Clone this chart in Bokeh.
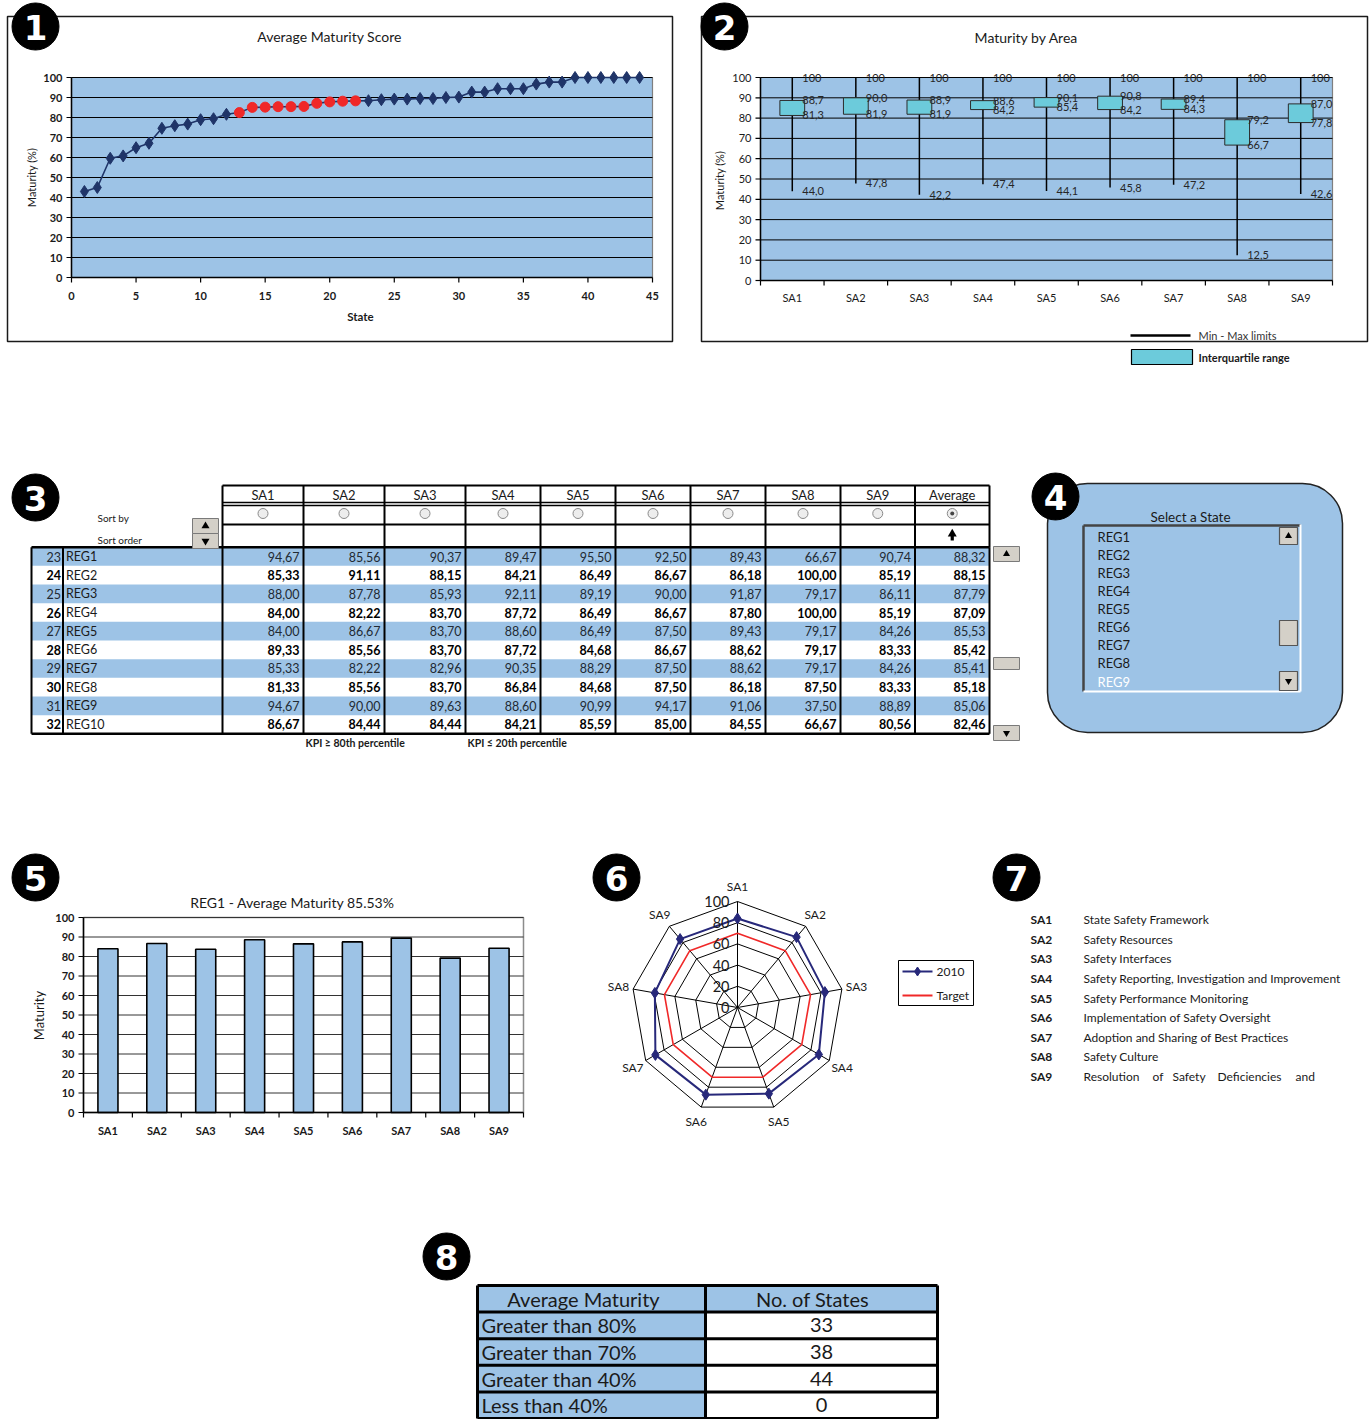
import math
from bokeh.plotting import figure
from bokeh.models import Range1d
from bokeh.embed import file_html
from bokeh.resources import INLINE
from bokeh.core.properties import value

# ===================== DATA =====================
# Panel 1 - average maturity score per State (sorted ascending)
state_ids = list(range(1, 45))
state_avg = [43.0, 45.0, 59.6, 60.8, 64.9, 67.1, 74.6, 75.9, 76.7, 78.9, 79.4, 81.6,
             82.46, 85.06, 85.18, 85.41, 85.42, 85.53, 87.09, 87.79, 88.15, 88.32,
             88.4, 88.9, 89.2, 89.2, 89.5, 89.5, 90.0, 90.2, 92.7, 92.7, 94.4, 94.4,
             94.4, 96.7, 97.7, 97.7, 100.0, 100.0, 100.0, 100.0, 100.0, 100.0]
red_state_ids = [13, 14, 15, 16, 17, 18, 19, 20, 21, 22]
p1_x_ticks = [0, 5, 10, 15, 20, 25, 30, 35, 40, 45]
p1_y_ticks = [0, 10, 20, 30, 40, 50, 60, 70, 80, 90, 100]

# Panel 2 - maturity by area (min / quartiles / max)
areas = ["SA1", "SA2", "SA3", "SA4", "SA5", "SA6", "SA7", "SA8", "SA9"]
area_max = [100, 100, 100, 100, 100, 100, 100, 100, 100]
area_q3 = [88.7, 90.0, 88.9, 88.6, 90.1, 90.8, 89.4, 79.2, 87.0]
area_q1 = [81.3, 81.9, 81.9, 84.2, 85.4, 84.2, 84.3, 66.7, 77.8]
area_min = [44.0, 47.8, 42.2, 47.4, 44.1, 45.8, 47.2, 12.5, 42.6]
p2_y_ticks = [0, 10, 20, 30, 40, 50, 60, 70, 80, 90, 100]

# Panel 3 - table
reg_ranks = [23, 24, 25, 26, 27, 28, 29, 30, 31, 32]
reg_names = ["REG1", "REG2", "REG3", "REG4", "REG5", "REG6", "REG7", "REG8", "REG9", "REG10"]
reg_sa1 = [94.67, 85.33, 88.00, 84.00, 84.00, 89.33, 85.33, 81.33, 94.67, 86.67]
reg_sa2 = [85.56, 91.11, 87.78, 82.22, 86.67, 85.56, 82.22, 85.56, 90.00, 84.44]
reg_sa3 = [90.37, 88.15, 85.93, 83.70, 83.70, 83.70, 82.96, 83.70, 89.63, 84.44]
reg_sa4 = [89.47, 84.21, 92.11, 87.72, 88.60, 87.72, 90.35, 86.84, 88.60, 84.21]
reg_sa5 = [95.50, 86.49, 89.19, 86.49, 86.49, 84.68, 88.29, 84.68, 90.99, 85.59]
reg_sa6 = [92.50, 86.67, 90.00, 86.67, 87.50, 86.67, 87.50, 87.50, 94.17, 85.00]
reg_sa7 = [89.43, 86.18, 91.87, 87.80, 89.43, 88.62, 88.62, 86.18, 91.06, 84.55]
reg_sa8 = [66.67, 100.00, 79.17, 100.00, 79.17, 79.17, 79.17, 87.50, 37.50, 66.67]
reg_sa9 = [90.74, 85.19, 86.11, 85.19, 84.26, 83.33, 84.26, 83.33, 88.89, 80.56]
reg_avg = [88.32, 88.15, 87.79, 87.09, 85.53, 85.42, 85.41, 85.18, 85.06, 82.46]
table_headers = ["SA1", "SA2", "SA3", "SA4", "SA5", "SA6", "SA7", "SA8", "SA9", "Average"]

# Panel 4 - state selector
state_list = ["REG1", "REG2", "REG3", "REG4", "REG5", "REG6", "REG7", "REG8", "REG9"]

# Panel 5 - selected state bar chart
p5_title = "REG1 - Average Maturity 85.53%"
p5_values = [84.00, 86.67, 83.70, 88.60, 86.49, 87.50, 89.43, 79.17, 84.26]
p5_y_ticks = [0, 10, 20, 30, 40, 50, 60, 70, 80, 90, 100]

# Panel 6 - radar
radar_2010 = [84.00, 86.67, 83.70, 88.60, 86.49, 87.50, 89.43, 79.17, 84.26]
radar_target = [70, 70, 70, 70, 70, 70, 70, 70, 70]
radar_rings = [0, 20, 40, 60, 80, 100]

# Panel 7 - area names
area_names = ["State Safety Framework", "Safety Resources", "Safety Interfaces",
              "Safety Reporting, Investigation and Improvement",
              "Safety Performance Monitoring", "Implementation of Safety Oversight",
              "Adoption and Sharing of Best Practices", "Safety Culture",
              "Resolution of Safety Deficiencies and"]

# Panel 8 - summary table
p8_headers = ["Average Maturity", "No. of States"]
p8_labels = ["Greater than 80%", "Greater than 70%", "Greater than 40%", "Less than 40%"]
p8_counts = [33, 38, 44, 0]

# ===================== STYLE / LAYOUT =====================
BLUE = "#9dc3e6"
CYAN = "#6ccbdb"
NAVY = "#1f3468"
RADAR_NAVY = "#27287a"
RED = "#f02828"
BTN = "#d4d0c8"
FONT = "Lato"

W, H = 1372, 1419
PX0, PX1, PY0, PY1 = 0, W, 0, H

C1_L, C1_R, C1_B, C1_T = 71, 652, 277, 77
C2_L, C2_R, C2_B, C2_T = 760, 1332, 280, 77
C5_L, C5_R, C5_B, C5_T = 83, 523, 1112, 917
R6_CX, R6_CY, R6_R = 737, 1007, 106
COLS3 = [31, 62.5, 222, 303, 384, 465, 540, 615, 690, 765, 840, 914.5, 989]
T3_TOP, T3_BOT = 546.7, 733.3
COLS8 = [477, 705, 937]


def xmap(pa, da, pb, db):
    k = (db - da) / (pb - pa)
    return Range1d(start=da + (PX0 - pa) * k, end=da + (PX1 - pa) * k)


def ymap(pa, da, pb, db):
    k = (db - da) / (pb - pa)
    return Range1d(start=da + (PY1 - pa) * k, end=da + (PY0 - pa) * k)


p = figure(width=W, height=H, x_range=Range1d(PX0, PX1), y_range=Range1d(PY1, PY0),
           x_axis_type=None, y_axis_type=None, toolbar_location=None,
           output_backend="svg", min_border=0, outline_line_color=None,
           background_fill_color="white", border_fill_color="white")

n_areas = len(areas)
p.extra_x_ranges = {
    "c1x": xmap(C1_L, p1_x_ticks[0], C1_R, p1_x_ticks[-1]),
    "c2x": xmap(C2_L, 0, C2_R, n_areas),
    "c5x": xmap(C5_L, 0, C5_R, n_areas),
    "r6x": xmap(R6_CX, 0, R6_CX + R6_R, radar_rings[-1]),
}
p.extra_y_ranges = {
    "c1y": ymap(C1_B, p1_y_ticks[0], C1_T, p1_y_ticks[-1]),
    "c2y": ymap(C2_B, p2_y_ticks[0], C2_T, p2_y_ticks[-1]),
    "c5y": ymap(C5_B, p5_y_ticks[0], C5_T, p5_y_ticks[-1]),
    "r6y": ymap(R6_CY, 0, R6_CY - R6_R, radar_rings[-1]),
    "t3y": ymap(T3_TOP, 0, T3_BOT, len(reg_names)),
    "l4y": ymap(536, 0, 681, len(state_list) - 1),
    "t7y": ymap(919, 0, 1076, len(areas) - 1),
    "t8y": ymap(1285, 0, 1418, len(p8_labels) + 1),
}


def T(xs, ys, texts, size=12, color="#1a1a1a", align="left", baseline="middle",
      style="normal", angle=0.0, xo=0, yo=0, xn="default", yn="default", font=FONT):
    p.text(x=list(xs), y=list(ys), text=[str(t) for t in texts], text_font=value(font),
           text_font_size=f"{size}px", text_color=color, text_align=align,
           text_baseline=baseline, text_font_style=style, angle=angle,
           x_offset=xo, y_offset=yo, x_range_name=xn, y_range_name=yn)


def box(l, r, t, b, fill=None, line="#1a1a1a", lw=1.5, **kw):
    p.quad(left=[l], right=[r], top=[t], bottom=[b], fill_color=fill,
           line_color=line, line_width=lw, **kw)


def comma(v, d):
    return f"{v:.{d}f}".replace(".", ",")


# ===================== PANEL 1 =====================
box(7, 672, 16, 341)
k1 = dict(x_range_name="c1x", y_range_name="c1y")
x_lo, x_hi = p1_x_ticks[0], p1_x_ticks[-1]
y_lo, y_hi = p1_y_ticks[0], p1_y_ticks[-1]
ux = (x_hi - x_lo) / (C1_R - C1_L)
uy = (y_hi - y_lo) / (C1_B - C1_T)
p.quad(left=[x_lo], right=[x_hi], bottom=[y_lo], top=[y_hi], fill_color=BLUE,
       line_color="#7f7f7f", line_width=1.2, **k1)
g = p1_y_ticks[1:]
p.segment(x0=[x_lo] * len(g), x1=[x_hi] * len(g), y0=g, y1=g, line_color="black", line_width=1, **k1)
p.segment(x0=[x_lo, x_lo], y0=[y_lo, y_lo], x1=[x_hi, x_lo], y1=[y_lo, y_hi],
          line_color="black", line_width=1.5, **k1)
nx, ny = len(p1_x_ticks), len(p1_y_ticks)
p.segment(x0=p1_x_ticks, x1=p1_x_ticks, y0=[y_lo] * nx, y1=[y_lo - 5 * uy] * nx,
          line_color="black", line_width=1.2, **k1)
p.segment(x0=[x_lo] * ny, x1=[x_lo - 5 * ux] * ny, y0=p1_y_ticks, y1=p1_y_ticks,
          line_color="black", line_width=1.2, **k1)
T(p1_x_ticks, [y_lo] * nx, p1_x_ticks, size=11, style="bold", align="center", yo=18, xn="c1x", yn="c1y")
T([x_lo] * ny, p1_y_ticks, p1_y_ticks, size=11, style="bold", align="right", xo=-9, xn="c1x", yn="c1y")
p.line(state_ids, state_avg, line_color=NAVY, line_width=1.6, **k1)
blue_ids = [s for s in state_ids if s not in red_state_ids]
p.scatter(blue_ids, [state_avg[s - 1] for s in blue_ids], marker="diamond", size=12,
          fill_color=NAVY, line_color=NAVY, **k1)
p.scatter(red_state_ids, [state_avg[s - 1] for s in red_state_ids], marker="circle", size=10,
          fill_color=RED, line_color=RED, **k1)
T([329], [36], ["Average Maturity Score"], size=14, align="center")
T([360], [316], ["State"], size=11.5, align="center", style="bold")
T([31], [177], ["Maturity (%)"], size=11, align="center", angle=math.pi / 2)

# ===================== PANEL 2 =====================
box(701, 1367, 16, 341)
k2 = dict(x_range_name="c2x", y_range_name="c2y")
y_lo, y_hi = p2_y_ticks[0], p2_y_ticks[-1]
ux = n_areas / (C2_R - C2_L)
uy = (y_hi - y_lo) / (C2_B - C2_T)
p.quad(left=[0], right=[n_areas], bottom=[y_lo], top=[y_hi], fill_color=BLUE,
       line_color="#7f7f7f", line_width=1.2, **k2)
g = p2_y_ticks[1:]
p.segment(x0=[0] * len(g), x1=[n_areas] * len(g), y0=g, y1=g, line_color="black", line_width=1, **k2)
p.segment(x0=[0, 0], y0=[y_lo, y_lo], x1=[n_areas, 0], y1=[y_lo, y_hi],
          line_color="black", line_width=1.5, **k2)
bounds = list(range(n_areas + 1))
p.segment(x0=bounds, x1=bounds, y0=[y_lo] * len(bounds), y1=[y_lo - 5 * uy] * len(bounds),
          line_color="black", line_width=1.2, **k2)
ny = len(p2_y_ticks)
p.segment(x0=[0] * ny, x1=[-5 * ux] * ny, y0=p2_y_ticks, y1=p2_y_ticks,
          line_color="black", line_width=1.2, **k2)
T([0] * ny, p2_y_ticks, p2_y_ticks, size=11, align="right", xo=-9, xn="c2x", yn="c2y")
centers = [i + 0.5 for i in range(n_areas)]
T(centers, [y_lo] * n_areas, areas, size=11, align="center", yo=17, xn="c2x", yn="c2y")
p.segment(x0=centers, x1=centers, y0=area_min, y1=area_max, line_color="black", line_width=1.5, **k2)
p.vbar(x=centers, width=0.39, bottom=area_q1, top=area_q3, fill_color=CYAN,
       line_color="#2b2b2b", line_width=1, **k2)
lab_vals = area_max + area_q3 + area_q1 + area_min
lab_txt = ([str(v) for v in area_max] + [comma(v, 1) for v in area_q3] +
           [comma(v, 1) for v in area_q1] + [comma(v, 1) for v in area_min])
T(centers * 4, lab_vals, lab_txt, size=11, color="#262626", xo=10, xn="c2x", yn="c2y")
T([1026], [37], ["Maturity by Area"], size=14, align="center")
T([719], [180], ["Maturity (%)"], size=11, align="center", angle=math.pi / 2)
p.segment(x0=[1130], x1=[1190], y0=[335], y1=[335], line_color="black", line_width=2.5)
T([1198], [335], ["Min - Max limits"], size=11, color="#333333")
box(1131, 1192, 349, 364, fill=CYAN, line="black", lw=1.2)
T([1198], [357], ["Interquartile range"], size=11, style="bold")

# ===================== PANEL 3 =====================
k3 = dict(y_range_name="t3y")
rows = list(range(len(reg_names)))
blue_rows = [r for r in rows if r % 2 == 0]
white_rows = [r for r in rows if r % 2 == 1]
p.quad(left=[COLS3[0]] * len(blue_rows), right=[COLS3[-1]] * len(blue_rows),
       top=blue_rows, bottom=[r + 1 for r in blue_rows], fill_color=BLUE, line_color=None, **k3)
T([COLS3[1] - 2] * len(blue_rows), [r + 0.5 for r in blue_rows], [reg_ranks[r] for r in blue_rows],
  size=12.5, align="right", color="#222a33", yn="t3y")
T([COLS3[1] - 2] * len(white_rows), [r + 0.5 for r in white_rows], [reg_ranks[r] for r in white_rows],
  size=12.5, align="right", style="bold", color="black", yn="t3y")
T([COLS3[1] + 3] * len(rows), [r + 0.5 for r in rows], reg_names, size=12.5, yn="t3y")
table_cols = [reg_sa1, reg_sa2, reg_sa3, reg_sa4, reg_sa5, reg_sa6, reg_sa7, reg_sa8, reg_sa9, reg_avg]
for j, col in enumerate(table_cols):
    xr_ = COLS3[j + 3] - 4
    T([xr_] * len(blue_rows), [r + 0.5 for r in blue_rows], [comma(col[r], 2) for r in blue_rows],
      size=12.5, align="right", color="#222a33", yn="t3y")
    T([xr_] * len(white_rows), [r + 0.5 for r in white_rows], [comma(col[r], 2) for r in white_rows],
      size=12.5, align="right", style="bold", color="black", yn="t3y")
# grid
p.segment(x0=COLS3, x1=COLS3, y0=[0] * len(COLS3), y1=[len(rows)] * len(COLS3),
          line_color="black", line_width=2, **k3)
hc = COLS3[2:]
p.segment(x0=hc, x1=hc, y0=[485] * len(hc), y1=[T3_TOP] * len(hc), line_color="black", line_width=2)
p.segment(x0=[COLS3[2]] * 4, x1=[COLS3[-1]] * 4, y0=[485, 502, 505, 524], y1=[485, 502, 505, 524],
          line_color="black", line_width=[2, 1.3, 1.3, 2])
p.segment(x0=[COLS3[0]] * 2, x1=[COLS3[-1]] * 2, y0=[T3_TOP, T3_BOT], y1=[T3_TOP, T3_BOT],
          line_color="black", line_width=2.5)
hcent = [(COLS3[j + 2] + COLS3[j + 3]) / 2 for j in range(len(table_headers))]
T(hcent, [494] * len(hcent), table_headers, size=13, align="center")
p.scatter(hcent, [513] * len(hcent), marker="circle", size=10, fill_color="#ededed",
          line_color="#8a8a8a", line_width=1)
p.scatter([hcent[-1]], [513], marker="circle", size=4, fill_color="#444444", line_color=None)
p.scatter([hcent[-1]], [533.5], marker="triangle", size=9, fill_color="black", line_color=None)
box(hcent[-1] - 1.6, hcent[-1] + 1.6, 535, 540, fill="black", line=None, lw=0)
T([97], [517], ["Sort by"], size=10)
T([97], [539], ["Sort order"], size=10)
for (t, b, mk) in [(518, 533, "triangle"), (533, 548, "inverted_triangle")]:
    box(192, 218, t, b, fill=BTN, line="#7a7a7a", lw=1)
    p.scatter([205], [(t + b) / 2], marker=mk, size=8, fill_color="black", line_color=None)
for (t, b, mk) in [(546, 561, "triangle"), (657, 669, None), (725, 740, "inverted_triangle")]:
    box(993, 1019, t, b, fill=BTN, line="#7a7a7a", lw=1)
    if mk:
        p.scatter([1006], [(t + b) / 2], marker=mk, size=7, fill_color="black", line_color=None)
T([305], [742], ["KPI  \u2265 80th percentile"], size=10.5, style="bold")
T([467], [742], ["KPI  \u2264 20th percentile"], size=10.5, style="bold")

# ===================== PANEL 4 =====================
p.quad(left=[1047], right=[1342], top=[483], bottom=[732], fill_color=BLUE,
       line_color="#222222", line_width=1.5, border_radius=40)
T([1190], [516], ["Select a State"], size=13.5, align="center")
box(1083, 1300, 524, 691, fill=BLUE, line=None, lw=0)
p.segment(x0=[1083, 1083], x1=[1300, 1083], y0=[525, 525], y1=[525, 691],
          line_color="#444444", line_width=2.5)
p.segment(x0=[1300, 1083], x1=[1300, 1300], y0=[524, 691], y1=[691, 691],
          line_color="white", line_width=2)
li = list(range(len(state_list)))
T([1097] * (len(li) - 1), li[:-1], state_list[:-1], size=13, yn="l4y")
T([1097], [li[-1]], [state_list[-1]], size=13, color="white", yn="l4y")
for (t, b, mk) in [(527, 544, "triangle"), (620, 645, None), (671, 690, "inverted_triangle")]:
    box(1279, 1297, t, b, fill=BTN, line="#555555", lw=1.2)
    if mk:
        p.scatter([1288], [(t + b) / 2], marker=mk, size=7, fill_color="black", line_color=None)

# ===================== PANEL 5 =====================
k5 = dict(x_range_name="c5x", y_range_name="c5y")
y_lo, y_hi = p5_y_ticks[0], p5_y_ticks[-1]
ux = n_areas / (C5_R - C5_L)
uy = (y_hi - y_lo) / (C5_B - C5_T)
p.quad(left=[0], right=[n_areas], bottom=[y_lo], top=[y_hi], fill_color="white",
       line_color="#8c8c8c", line_width=1.5, **k5)
g = p5_y_ticks[1:]
p.segment(x0=[0] * len(g), x1=[n_areas] * len(g), y0=g, y1=g, line_color="#333333", line_width=1, **k5)
p.vbar(x=centers, width=0.41, bottom=0, top=p5_values, fill_color=BLUE,
       line_color="black", line_width=1.6, **k5)
p.segment(x0=[0, 0], y0=[y_lo, y_lo], x1=[n_areas, 0], y1=[y_lo, y_hi],
          line_color="black", line_width=1.5, **k5)
p.segment(x0=bounds, x1=bounds, y0=[y_lo] * len(bounds), y1=[y_lo - 5 * uy] * len(bounds),
          line_color="black", line_width=1.2, **k5)
ny = len(p5_y_ticks)
p.segment(x0=[0] * ny, x1=[-5 * ux] * ny, y0=p5_y_ticks, y1=p5_y_ticks,
          line_color="black", line_width=1.2, **k5)
T([0] * ny, p5_y_ticks, p5_y_ticks, size=11, style="bold", align="right", xo=-9, xn="c5x", yn="c5y")
T(centers, [y_lo] * n_areas, areas, size=11, style="bold", align="center", yo=18, xn="c5x", yn="c5y")
T([292], [902], [p5_title], size=14, align="center")
T([38], [1015], ["Maturity"], size=13, align="center", angle=math.pi / 2)

# ===================== PANEL 6 =====================
k6 = dict(x_range_name="r6x", y_range_name="r6y")
ang = [math.pi / 2 - i * 2 * math.pi / n_areas for i in range(n_areas)]


def polar(vals):
    xs = [v * math.cos(a) for v, a in zip(vals, ang)]
    ys = [v * math.sin(a) for v, a in zip(vals, ang)]
    return xs + [xs[0]], ys + [ys[0]]


ring_xs, ring_ys = [], []
for lvl in radar_rings[1:]:
    xs, ys = polar([lvl] * n_areas)
    ring_xs.append(xs)
    ring_ys.append(ys)
p.multi_line(ring_xs, ring_ys, line_color="black", line_width=1, **k6)
ox, oy = polar([radar_rings[-1]] * n_areas)
p.segment(x0=[0] * n_areas, y0=[0] * n_areas, x1=ox[:-1], y1=oy[:-1], line_color="black", line_width=1, **k6)
tx, ty = polar(radar_target)
p.line(tx, ty, line_color=RED, line_width=1.6, **k6)
sx, sy = polar(radar_2010)
p.line(sx, sy, line_color=RADAR_NAVY, line_width=2, **k6)
p.scatter(sx[:-1], sy[:-1], marker="diamond", size=11, fill_color=RADAR_NAVY, line_color=RADAR_NAVY, **k6)
T([0] * len(radar_rings), radar_rings, radar_rings, size=14.5, align="right", xo=-8, xn="r6x", yn="r6y")
lx, ly = polar([114] * n_areas)
T(lx[:-1], ly[:-1], areas, size=12, align="center", xn="r6x", yn="r6y")
box(898, 973, 960, 1005, fill="white", line="black", lw=1)
p.segment(x0=[902, 902], x1=[932, 932], y0=[971, 995], y1=[971, 995],
          line_color=[RADAR_NAVY, RED], line_width=2)
p.scatter([917], [971], marker="diamond", size=9, fill_color=RADAR_NAVY, line_color=RADAR_NAVY)
T([936, 936], [971, 995], ["2010", "Target"], size=12)

# ===================== PANEL 7 =====================
ai = list(range(n_areas))
T([1030] * n_areas, ai, areas, size=12, style="bold", yn="t7y")
T([1083] * (n_areas - 1), ai[:-1], area_names[:-1], size=12, yn="t7y")
sa9_words = area_names[-1].split(" ")
sa9_word_x = [1083, 1152, 1172, 1217, 1295]
T(sa9_word_x, [ai[-1]] * len(sa9_words), sa9_words, size=12, yn="t7y")

# ===================== PANEL 8 =====================
k8 = dict(y_range_name="t8y")
nr = len(p8_labels) + 1
r8 = list(range(nr))
p.quad(left=[COLS8[0]] * nr, right=[COLS8[1]] * nr, top=r8, bottom=[r + 1 for r in r8],
       fill_color=BLUE, line_color=None, **k8)
p.quad(left=[COLS8[1]] * nr, right=[COLS8[2]] * nr, top=r8, bottom=[r + 1 for r in r8],
       fill_color=[BLUE] + ["white"] * (nr - 1), line_color=None, **k8)
hl = list(range(nr + 1))
p.segment(x0=[COLS8[0]] * len(hl), x1=[COLS8[2]] * len(hl), y0=hl, y1=hl,
          line_color="black", line_width=3, **k8)
p.segment(x0=COLS8, x1=COLS8, y0=[0] * 3, y1=[nr] * 3, line_color="black", line_width=3, **k8)
T([583, 812], [0.5, 0.5], p8_headers, size=20, align="center", yn="t8y")
T([481] * len(p8_labels), [r + 1.5 for r in range(len(p8_labels))], p8_labels, size=20, yn="t8y")
T([821] * len(p8_counts), [r + 1.5 for r in range(len(p8_counts))], p8_counts, size=20,
  align="center", yn="t8y")

# ===================== BADGES =====================
badges = [("1", 35, 26), ("2", 724, 26), ("3", 35, 497), ("4", 1055, 496),
          ("5", 35, 877), ("6", 616, 877), ("7", 1016, 877), ("8", 446, 1256)]
p.scatter([b[1] for b in badges], [b[2] for b in badges], marker="circle", size=47,
          fill_color="black", line_color="black")
T([b[1] for b in badges], [b[2] + 1 for b in badges], [b[0] for b in badges], size=34,
  color="white", align="center", style="bold", font="DejaVu Sans")

open("out.html", "w").write(file_html(p, INLINE))
